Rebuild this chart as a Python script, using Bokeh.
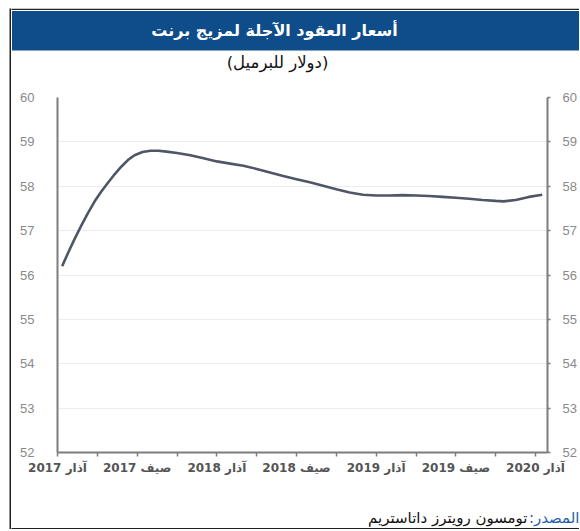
from bokeh.plotting import figure
from bokeh.layouts import column, row
from bokeh.models import LinearAxis, FixedTicker, Range1d, Label
from bokeh.embed import file_html
from bokeh.resources import INLINE

# ---- data ----
months = [0.35, 0.8, 1.3, 1.8, 2.3, 2.8, 3.3, 3.8, 4.3, 4.8, 5.3, 5.8, 6.4, 7.0,
          7.6, 8.2, 9.0, 10.0, 11.0, 12.0, 13.0, 14.0, 15.0, 16.0, 17.0, 18.0,
          19.0, 20.0, 21.0, 22.0, 23.0, 24.0, 25.0, 26.0, 27.0, 28.0, 29.0, 30.0,
          31.0, 32.0, 33.0, 33.6, 34.5, 35.5, 36.5]
prices = [56.20, 56.50, 56.82, 57.12, 57.40, 57.66, 57.88, 58.08, 58.27, 58.44,
          58.59, 58.70, 58.77, 58.80, 58.80, 58.78, 58.75, 58.70, 58.63, 58.56,
          58.51, 58.46, 58.39, 58.31, 58.23, 58.16, 58.09, 58.01, 57.93, 57.86,
          57.81, 57.79, 57.79, 57.80, 57.79, 57.78, 57.76, 57.74, 57.72, 57.69,
          57.67, 57.66, 57.69, 57.76, 57.81]

x_ticks = [0, 3, 6, 9, 12, 15, 18, 21, 24, 27, 30, 33, 36]
x_tick_labels = ["آذار 2017", "", "صيف 2017", "", "آذار 2018", "", "صيف 2018", "",
                 "آذار 2019", "", "صيف 2019", "", "آذار 2020"]
y_ticks = [52, 53, 54, 55, 56, 57, 58, 59, 60]

title_text = "أسعار العقود الآجلة لمزيج برنت"
subtitle_text = "(دولار للبرميل)"
source_label = "المصدر:\u200f"
source_text = "تومسون رويترز داتاستريم"

AR_FONT = "DejaVu Sans"
NUM_FONT = "Liberation Sans"
BORDER = "#222222"
X0, W = 11, 568          # page x of content start, content width
Y0 = 8                   # page y of the top

def strip_fig(y_top, h, **kw):
    f = figure(width=W, height=h, output_backend="svg", toolbar_location=None,
               x_range=Range1d(X0, X0 + W), y_range=Range1d(y_top + h, y_top),
               x_axis_location=None, y_axis_location=None, min_border=0,
               frame_align=False, **kw)
    f.grid.visible = False
    f.outline_line_color = None
    return f

# ---------- left border strip ----------
TOP_H, MAIN_H, BOT_H = 81, 388, 52
left = figure(width=2, height=TOP_H + MAIN_H + BOT_H, output_backend="svg",
              toolbar_location=None, x_axis_location=None, y_axis_location=None,
              min_border=0, frame_align=False, background_fill_color=BORDER,
              border_fill_color=BORDER)
left.grid.visible = False
left.outline_line_color = None

# ---------- top strip: title band + subtitle ----------
top = strip_fig(Y0, TOP_H, background_fill_color="white", border_fill_color="white")
top.quad(left=[X0 - 1], right=[X0 + W + 10], top=[Y0], bottom=[Y0 + 1.5],
         fill_color=BORDER, line_color=None)
top.quad(left=[X0 + 0.5], right=[X0 + W + 10], top=[10.5], bottom=[50],
         fill_color="#0f4c8a", line_color=None)
top.add_layout(Label(x=274, y=30, text=title_text, text_align="center",
                     text_baseline="middle", text_color="white", text_font=AR_FONT,
                     text_font_style="bold", text_font_size="16px"))
top.add_layout(Label(x=277, y=61.5, text=subtitle_text, text_align="center",
                     text_baseline="middle", text_color="#111111", text_font=AR_FONT,
                     text_font_size="16.5px"))

# ---------- main chart ----------
p = figure(width=W, height=MAIN_H, output_backend="svg", toolbar_location=None,
           x_range=Range1d(0, 36.9), y_range=Range1d(52, 60),
           min_border_left=46, min_border_right=30, min_border_top=8,
           min_border_bottom=22, frame_align=False,
           background_fill_color="white", border_fill_color="white")
p.outline_line_color = None
p.xgrid.visible = False
p.ygrid.ticker = FixedTicker(ticks=y_ticks)
p.ygrid.grid_line_color = "#ececec"

xa = p.xaxis[0]
xa.ticker = FixedTicker(ticks=x_ticks)
xa.major_label_overrides = {t: l for t, l in zip(x_ticks, x_tick_labels)}
xa.axis_line_color = "#7d7d7d"
xa.axis_line_width = 2
xa.major_tick_line_color = "#7d7d7d"
xa.major_tick_line_width = 1.5
xa.major_tick_out = 4
xa.major_tick_in = 0
xa.minor_tick_line_color = None
xa.major_label_standoff = 4
xa.major_label_text_font = AR_FONT
xa.major_label_text_font_size = "12px"
xa.major_label_text_font_style = "bold"
xa.major_label_text_color = "#555555"

ya = p.yaxis[0]
ya.ticker = FixedTicker(ticks=y_ticks)
ya.axis_line_color = "#7d7d7d"
ya.axis_line_width = 2
ya.major_tick_line_color = None
ya.minor_tick_line_color = None
ya.major_label_standoff = 17
ya.major_label_text_font = NUM_FONT
ya.major_label_text_font_size = "13px"
ya.major_label_text_color = "#8a8a8a"

ra = LinearAxis(ticker=FixedTicker(ticks=y_ticks))
ra.axis_line_color = "#7d7d7d"
ra.axis_line_width = 2
ra.major_tick_line_color = "#7d7d7d"
ra.major_tick_line_width = 1.5
ra.major_tick_out = 3
ra.major_tick_in = 0
ra.minor_tick_line_color = None
ra.major_label_standoff = 12
ra.major_label_text_font = NUM_FONT
ra.major_label_text_font_size = "13px"
ra.major_label_text_color = "#8a8a8a"
p.add_layout(ra, "right")

p.line(months, prices, line_color="#4f5766", line_width=2.6)

# ---------- bottom strip: source ----------
BOT0 = Y0 + TOP_H + MAIN_H
bot = strip_fig(BOT0, BOT_H, background_fill_color="white", border_fill_color="white")
bot.quad(left=[X0 - 1], right=[X0 + W + 10], top=[BOT0 + BOT_H - 1.5],
         bottom=[BOT0 + BOT_H], fill_color=BORDER, line_color=None)
bot.add_layout(Label(x=579, y=517, text=source_label, text_align="right",
                     text_baseline="middle", text_color="#1f5fa8", text_font=AR_FONT,
                     text_font_size="15px"))
bot.add_layout(Label(x=527, y=517, text=source_text, text_align="right",
                     text_baseline="middle", text_color="#111111", text_font=AR_FONT,
                     text_font_size="15px"))

layout = row(left, column(top, p, bot), margin=(Y0, 0, 0, 9))

open("out.html", "w").write(file_html(layout, INLINE))
